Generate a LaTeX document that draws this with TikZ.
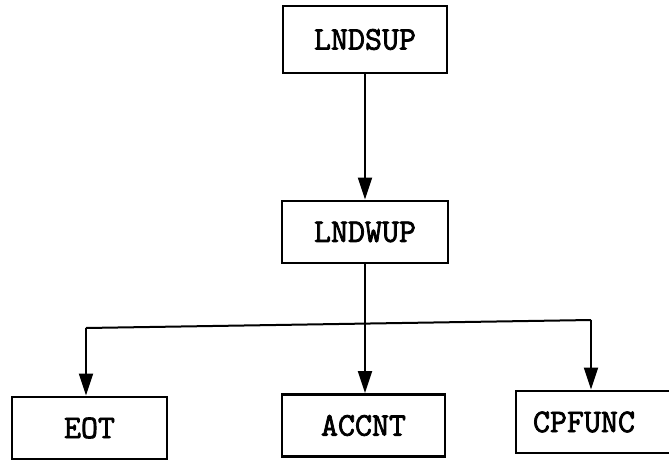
\documentclass[tikz,border=0pt]{standalone}
\usepackage{fontspec}
\usetikzlibrary{arrows.meta}
\newfontfamily\typewriter[FakeBold=2.3]{Latin Modern Mono}
\newcommand\boxfont{\typewriter\fontsize{33}{35}\selectfont}
\begin{document}
\begin{tikzpicture}[x=1pt,y=-1pt,
  modbox/.style={draw, line width=2.8pt, minimum width=#1, minimum height=62pt,
    inner sep=0pt, font=\boxfont},
  wire/.style={line width=2pt},
  flow/.style={wire, -{Triangle[length=22pt,width=14pt]}}]
\useasboundingbox (0,0) rectangle (669,461);
\clip (0,0) rectangle (669,461);

% module boxes
\node[modbox=164pt, minimum height=67pt] (lndsup) at (365,39.5) {LNDSUP};
\node[modbox=166pt] (lndwup) at (365,232) {LNDWUP};
\node[modbox=155pt] (eot)    at (89.5,428) {EOT};
\node[modbox=163pt] (accnt)  at (363.5,425.5) {ACCNT};
% this box runs off the right edge; its text sits left of centre
\node[modbox=164pt, inner xsep=17pt, text width=130pt, align=left]
  (cpfunc) at (598,422) {CPFUNC};

% distribution bus
\coordinate (busl) at (86,328);
\coordinate (busm) at (365,324);
\coordinate (busr) at (591,320);

\draw[flow] (lndsup) -- (lndwup);
\draw[wire] (lndwup.south) -- (busm);
\draw[wire] (busl) -- (busr);
\draw[flow] (busl) -- (busl |- eot.north);
\draw[flow] (busm) -- (busm |- accnt.north);
\draw[flow] (busr) -- (busr |- cpfunc.north);
\end{tikzpicture}
\end{document}
